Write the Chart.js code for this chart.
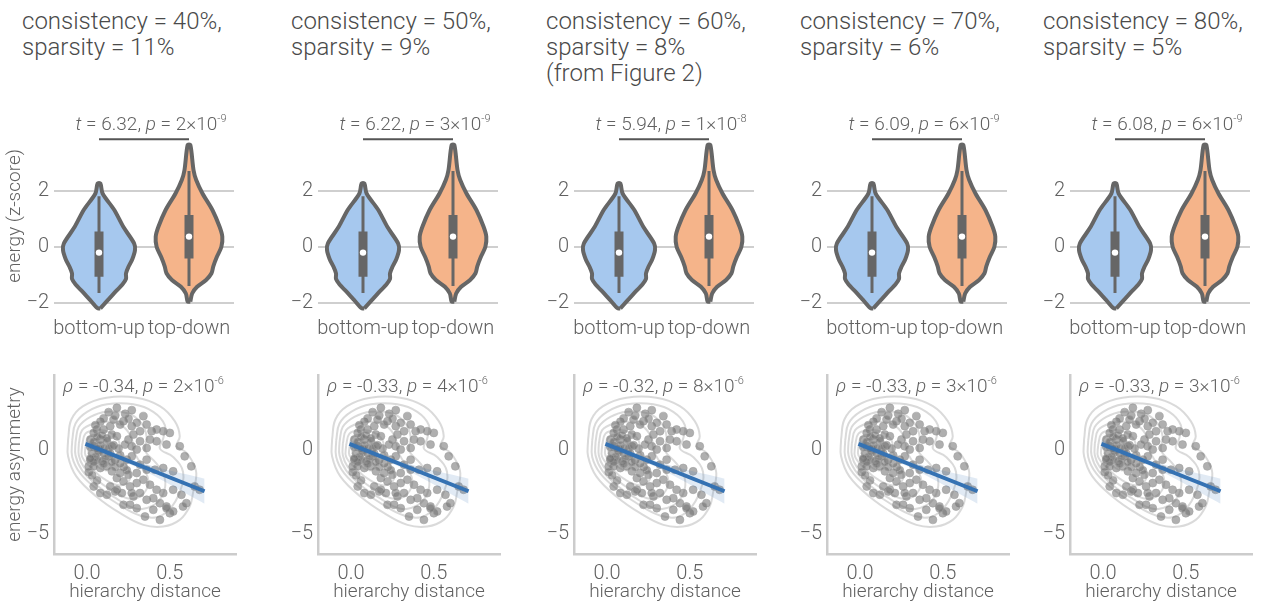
<!DOCTYPE html>
<html>
<head>
<meta charset="utf-8">
<script src="https://cdn.jsdelivr.net/npm/chart.js@4.4.1/dist/chart.umd.min.js"></script>
<style>
  body { margin: 0; background: #fff; width: 1265px; height: 605px; position: relative; overflow: hidden; font-family: Roboto, sans-serif; }
  .title { position: absolute; top: 8px; font-size: 24px; font-weight: 300; color: #4a4a4a; line-height: 26px; white-space: nowrap; }
  canvas { position: absolute; }
</style>
</head>
<body>
<script>
// panel headers
const consistency = ["40%", "50%", "60%", "70%", "80%"];
const sparsity = ["11%", "9%", "8%", "6%", "5%"];
const notes = ["", "", "(from Figure 2)", "", ""];

// t-test annotations (violins)
const tValues = ["6.32", "6.22", "5.94", "6.09", "6.08"];
const tPMant = ["2", "3", "1", "6", "6"];
const tPExp = ["-9", "-9", "-8", "-9", "-9"];

// correlation annotations (scatter)
const rhoValues = ["-0.34", "-0.33", "-0.32", "-0.33", "-0.33"];
const rhoPMant = ["2", "4", "8", "3", "3"];
const rhoPExp = ["-6", "-6", "-6", "-6", "-6"];

// violin categories and ticks
const groups = ["bottom-up", "top-down"];
const violinTicks = [-2, 0, 2];
const sigBarY = 3.84;

// violin density profiles (energy level, half width in category units)
const buLevels = [-2.2, -1.9, -1.55, -1.35, -1.15, -0.95, -0.7, -0.45, -0.12, 0.12, 0.71, 1.31, 1.9, 2.26];
const buHalf   = [0.015, 0.1, 0.2, 0.26, 0.3, 0.3, 0.33, 0.37, 0.4, 0.39, 0.27, 0.17, 0.04, 0.015];
const tdLevels = [-1.96, -1.67, -1.43, -1.19, -0.95, -0.7, -0.36, 0.0, 0.36, 0.71, 1.31, 1.9, 2.38, 2.74, 3.63];
const tdHalf   = [0.015, 0.035, 0.09, 0.19, 0.25, 0.27, 0.31, 0.36, 0.37, 0.34, 0.26, 0.15, 0.08, 0.05, 0.015];

// box stats: [whisker low, q1, median, q3, whisker high]
const buBox = [-1.65, -1.07, -0.21, 0.54, 1.8];
const tdBox = [-1.4, -0.42, 0.36, 1.13, 2.7];

// scatter: hierarchy distance vs energy asymmetry
const hierX = [0.13, 0.18, 0.17, 0.23, 0.27, 0.22, 0.2, 0.25, 0.27, 0.3, 0.34, 0.36, 0.39, 0.42, 0.46, 0.5,
  0.16, 0.14, 0.32, 0.28, 0.25, 0.32, 0.38, 0.42, 0.36, 0.48, 0.56, 0.59, 0.63, 0.46, 0.52, 0.41,
  0.36, 0.3, 0.27, 0.23, 0.18, 0.15, 0.1, 0.06, 0.04, 0.08, 0.12, 0.15, 0.02, 0.04, 0.07, 0.1,
  0.13, 0.17, 0.2, 0.24, 0.27, 0.32, 0.36, 0.3, 0.25, 0.2, 0.15, 0.12, 0.08, 0.04, 0.01, 0.02,
  0.06, 0.09, 0.18, 0.22, 0.26, 0.3, 0.34, 0.38, 0.42, 0.46, 0.32, 0.28, 0.36, 0.4, 0.44, 0.48,
  0.5, 0.44, 0.4, 0.35, 0.3, 0.26, 0.22, 0.17, 0.12, 0.08, 0.04, 0.14, 0.18, 0.21, 0.27, 0.52,
  0.57, 0.65, 0.68, 0.6, 0.58, 0.52, 0.48, 0.02, 0.04, 0.06, 0.03, 0.05, 0.08, 0.1, 0.12, 0.09,
  0.07, 0.11, 0.13, 0.14, 0.04, 0.06, 0.02, 0.1, 0.16, 0.19, 0.2, 0.22, 0.24, 0.17, 0.15, 0.05,
  0.08, 0.1, 0.01, 0.03, 0.06];
const asymY = [2.28, 2.54, 2.08, 2.18, 2.4, 1.74, 1.54, 1.88, 1.44, 1.64, 2.04, 1.54, 1.14, 1.24, 1.14, 1.04,
  1.84, 1.44, 1.14, 0.94, 0.64, 0.54, 0.64, 0.54, 0.14, 0.34, 0.24, -0.36, -0.96, -1.06, -1.26, -1.16,
  -0.56, 0.04, 0.24, 0.34, 0.84, 0.94, 1.24, 1.24, 1.04, 0.64, 0.54, 0.24, 0.64, 0.24, 0.04, -0.16,
  -0.36, -0.56, -0.76, -0.56, -0.36, -0.86, -1.16, -1.36, -1.46, -1.36, -1.26, -0.96, -1.06, -0.96, -0.96, -0.56,
  -0.56, -0.66, -1.66, -1.86, -2.16, -1.96, -1.76, -2.06, -2.36, -2.56, -2.56, -2.76, -2.96, -2.86, -3.16, -3.36,
  -3.76, -4.16, -3.56, -3.96, -3.46, -3.26, -3.26, -2.46, -2.66, -2.56, -2.16, -2.16, -2.36, -2.56, -2.56, -2.36,
  -2.66, -2.16, -2.36, -3.16, -3.36, -3.66, -3.46, 0.2, 0.5, 0.8, -0.2, -0.4, 0.3, 0.1, 0.7, 0.9,
  -0.1, -0.5, 0.1, -0.2, -0.7, 0.1, -0.5, -0.8, 0.3, 0.1, -0.3, -1.0, -1.2, -1.0, -0.7, 1.5,
  1.7, 1.9, -1.3, -1.5, -1.8];

// regression fit and confidence band
const regX = [-0.01, 0.71];
const regY = [0.38, -2.45];
const ciX  = [-0.01, 0.1, 0.2, 0.3, 0.4, 0.5, 0.6, 0.71];
const ciHi = [0.63, 0.13, -0.3, -0.66, -0.95, -1.21, -1.44, -1.7];
const ciLo = [0.13, -0.23, -0.6, -1.02, -1.51, -2.05, -2.6, -3.2];

// density contours [x, y]
const contour1 = [[-0.115, 0.64], [-0.095, 1.84], [-0.024, 2.64], [0.117, 3.14], [0.298, 3.14], [0.44, 2.64], [0.53, 1.74],
  [0.56, 0.84], [0.54, 0.24], [0.59, -0.06], [0.63, -0.56], [0.66, -1.36], [0.64, -2.56], [0.62, -3.36], [0.56, -4.16],
  [0.46, -4.56], [0.34, -4.46], [0.2, -3.76], [0.056, -2.76], [-0.065, -1.56], [-0.115, -0.36], [-0.115, 0.64]];
const contour2 = [[-0.09, 0.6], [-0.07, 1.6], [0.0, 2.3], [0.12, 2.75], [0.28, 2.75], [0.4, 2.3], [0.47, 1.5], [0.46, 0.7],
  [0.44, 0.1], [0.52, -0.4], [0.58, -1.3], [0.56, -2.5], [0.5, -3.5], [0.42, -4.0], [0.32, -3.9], [0.2, -3.3],
  [0.07, -2.4], [-0.04, -1.4], [-0.09, -0.4], [-0.09, 0.6]];
const contour3 = [[-0.07, 0.5], [-0.05, 1.4], [0.02, 2.0], [0.12, 2.3], [0.25, 2.2], [0.33, 1.6], [0.36, 0.8], [0.35, 0.0],
  [0.42, -0.8], [0.47, -1.7], [0.46, -2.6], [0.4, -3.3], [0.3, -3.5], [0.18, -2.9], [0.06, -2.1], [-0.03, -1.2],
  [-0.07, -0.3], [-0.07, 0.5]];
const contour4 = [[-0.05, 0.4], [-0.03, 1.2], [0.04, 1.6], [0.13, 1.7], [0.22, 1.4], [0.27, 0.7], [0.28, 0.0], [0.33, -0.9],
  [0.37, -1.8], [0.34, -2.6], [0.26, -2.9], [0.15, -2.4], [0.05, -1.7], [-0.02, -1.0], [-0.05, -0.3], [-0.05, 0.4]];
const contour5 = [[-0.03, 0.3], [-0.01, 1.0], [0.05, 1.2], [0.13, 1.1], [0.19, 0.6], [0.2, -0.1], [0.24, -0.9], [0.26, -1.7],
  [0.2, -2.1], [0.1, -1.7], [0.03, -1.1], [-0.03, -0.4], [-0.03, 0.3]];
const contour6 = [[-0.01, 0.2], [0.01, 0.8], [0.07, 0.9], [0.12, 0.5], [0.14, -0.2], [0.15, -0.9], [0.11, -1.2], [0.04, -0.8],
  [-0.01, -0.3], [-0.01, 0.2]];
const contour7 = [[0.01, 0.2], [0.03, 0.6], [0.07, 0.5], [0.09, 0.0], [0.08, -0.5], [0.04, -0.5], [0.01, -0.2], [0.01, 0.2]];
const contours = [contour1, contour2, contour3, contour4, contour5, contour6, contour7];

const panelLeft = [54, 318, 574, 827, 1070];
const titleLeft = [22, 291, 546, 800, 1043];
const TXT = "#616161";
const FAM = "Roboto, 'Liberation Sans', sans-serif";

Chart.defaults.font.family = FAM;
Chart.defaults.font.size = 20;
Chart.defaults.font.weight = "300";
Chart.defaults.color = TXT;

const minus = v => (v < 0 ? "\u2212" + Math.abs(v) : String(v));

function drawRuns(ctx, runs, x, y, size, align) {
  const fontFor = r => (r.it ? "italic " : "") + "300 " + (r.sup ? Math.round(size * 0.6) : size) + "px " + FAM;
  let total = 0;
  runs.forEach(r => { ctx.font = fontFor(r); r.w = ctx.measureText(r.t).width; total += r.w; });
  let cx = align === "center" ? x - total / 2 : x;
  ctx.save();
  ctx.fillStyle = TXT;
  ctx.textAlign = "left";
  ctx.textBaseline = "alphabetic";
  runs.forEach(r => {
    ctx.font = fontFor(r);
    ctx.fillText(r.t, cx, r.sup ? y - size * 0.42 : y);
    cx += r.w;
  });
  ctx.restore();
}

function makeCanvas(left, top, w, h) {
  const c = document.createElement("canvas");
  c.width = w; c.height = h;
  c.style.left = left + "px"; c.style.top = top + "px";
  c.style.width = w + "px"; c.style.height = h + "px";
  document.body.appendChild(c);
  return c;
}

function violinShape(center, levels, half) {
  const pts = [];
  for (let k = 0; k < levels.length; k++) pts.push({ x: center + half[k], y: levels[k] });
  for (let k = levels.length - 1; k >= 0; k--) pts.push({ x: center - half[k], y: levels[k] });
  pts.push(pts[0]);
  return pts;
}

const baseOpts = { responsive: false, animation: false, events: [],
  plugins: { legend: { display: false }, tooltip: { enabled: false } } };

for (let i = 0; i < 5; i++) {
  // header
  const t = document.createElement("div");
  t.className = "title";
  t.style.left = titleLeft[i] + "px";
  t.innerHTML = "consistency = " + consistency[i] + ",<br>sparsity = " + sparsity[i] + (notes[i] ? "<br>" + notes[i] : "");
  document.body.appendChild(t);

  // violin panel
  const vc = makeCanvas(panelLeft[i] - 54, 100, 250, 250);
  const lineDs = (data, color, width, order) => ({ type: "line", data, borderColor: color, borderWidth: width,
    pointRadius: 0, fill: false, order, borderCapStyle: "butt" });
  new Chart(vc, {
    type: "scatter",
    data: { datasets: [
      { type: "scatter", data: [{ x: 0, y: buBox[2] }, { x: 1, y: tdBox[2] }], pointRadius: 3.2,
        backgroundColor: "#fff", borderWidth: 0, order: 0 },
      lineDs([{ x: 0, y: sigBarY }, { x: 1, y: sigBarY }], "#555", 2, 0),
      lineDs([{ x: 0, y: buBox[1] }, { x: 0, y: buBox[3] }], "#666", 9, 1),
      lineDs([{ x: 1, y: tdBox[1] }, { x: 1, y: tdBox[3] }], "#666", 9, 1),
      lineDs([{ x: 0, y: buBox[0] }, { x: 0, y: buBox[4] }], "#666", 3, 2),
      lineDs([{ x: 1, y: tdBox[0] }, { x: 1, y: tdBox[4] }], "#666", 3, 2),
      { type: "line", data: violinShape(0, buLevels, buHalf), fill: "shape", backgroundColor: "#a6c8ee",
        borderColor: "#666", borderWidth: 4, tension: 0.3, pointRadius: 0, order: 3, borderJoinStyle: "round" },
      { type: "line", data: violinShape(1, tdLevels, tdHalf), fill: "shape", backgroundColor: "#f5b48a",
        borderColor: "#666", borderWidth: 4, tension: 0.3, pointRadius: 0, order: 3, borderJoinStyle: "round" }
    ] },
    options: Object.assign({}, baseOpts, {
      layout: { padding: { top: 20.7, right: 16, bottom: 0, left: 0 } },
      scales: {
        x: { type: "linear", min: -0.5, max: 1.5,
          afterBuildTicks: s => { s.ticks = [{ value: 0 }, { value: 1 }]; },
          afterFit: s => { s.height = 38.9; },
          ticks: { callback: v => groups[v], padding: 6, maxRotation: 0, autoSkip: false },
          grid: { display: false, drawTicks: false }, border: { display: false } },
        y: { min: -2.3, max: 4.5,
          afterBuildTicks: s => { s.ticks = violinTicks.map(v => ({ value: v })); },
          afterFit: s => { s.width = 54; },
          ticks: { callback: v => minus(v), padding: 5 },
          grid: { color: "#cfcfcf", lineWidth: 2, drawTicks: false }, border: { display: false },
          title: { display: i === 0, text: "energy (z-score)", font: { size: 19 }, padding: { top: 4, bottom: 0 } } }
      }
    }),
    plugins: [{ id: "tnote", afterDraw(chart) {
      const xs = chart.scales.x, ys = chart.scales.y;
      const cx = (xs.getPixelForValue(0) + xs.getPixelForValue(1)) / 2 + 7;
      const by = ys.getPixelForValue(sigBarY) - 9;
      drawRuns(chart.ctx, [{ t: "t", it: true }, { t: " = " + tValues[i] + ", " }, { t: "p", it: true },
        { t: " = " + tPMant[i] + "\u00d710" }, { t: tPExp[i], sup: true }], cx, by, 19, "center");
    } }]
  });

  // scatter panel
  const sc = makeCanvas(panelLeft[i] - 54, 355, 250, 250);
  const ds = [];
  ds.push({ type: "line", data: regX.map((x, k) => ({ x, y: regY[k] })), borderColor: "#3572b3", borderWidth: 4,
    pointRadius: 0, fill: false, order: 0 });
  ds.push({ type: "line", data: ciX.map((x, k) => ({ x, y: ciHi[k] })), borderWidth: 0, pointRadius: 0,
    fill: "+1", backgroundColor: "rgba(53,114,179,0.15)", order: 1, tension: 0.3 });
  ds.push({ type: "line", data: ciX.map((x, k) => ({ x, y: ciLo[k] })), borderWidth: 0, pointRadius: 0,
    fill: false, order: 1, tension: 0.3 });
  ds.push({ type: "scatter", data: hierX.map((x, k) => ({ x, y: asymY[k] })), pointRadius: 4,
    backgroundColor: "rgba(110,110,110,0.55)", borderColor: "rgba(160,160,160,0.6)", borderWidth: 1, order: 2 });
  contours.forEach(c => ds.push({ type: "line", data: c.map(p => ({ x: p[0], y: p[1] })),
    borderColor: "rgba(205,205,205,0.75)", borderWidth: 2, pointRadius: 0, fill: false, tension: 0.4, order: 3 }));

  new Chart(sc, {
    type: "scatter",
    data: { datasets: ds },
    options: Object.assign({}, baseOpts, {
      layout: { padding: { top: 20, right: 14, bottom: 0, left: 0 } },
      scales: {
        x: { type: "linear", min: -0.2, max: 0.9,
          afterBuildTicks: s => { s.ticks = [{ value: 0 }, { value: 0.5 }]; },
          afterFit: s => { s.height = 51; },
          ticks: { callback: v => v.toFixed(1), padding: 8 },
          grid: { display: false, drawTicks: false },
          border: { display: true, color: "#cccccc", width: 2.5 },
          title: { display: true, text: "hierarchy distance", font: { size: 19 }, padding: { top: 0, bottom: 1 } } },
        y: { min: -6.2, max: 4.5,
          afterBuildTicks: s => { s.ticks = [{ value: -5 }, { value: 0 }]; },
          afterFit: s => { s.width = 54; },
          ticks: { callback: v => minus(v), padding: 5 },
          grid: { display: false, drawTicks: false },
          border: { display: true, color: "#cccccc", width: 2.5 },
          title: { display: i === 0, text: "energy asymmetry", font: { size: 19 }, padding: { top: 4, bottom: 0 } } }
      }
    }),
    plugins: [{ id: "rnote", afterDraw(chart) {
      const a = chart.chartArea;
      drawRuns(chart.ctx, [{ t: "\u03c1", it: true }, { t: " = " + rhoValues[i] + ", " }, { t: "p", it: true },
        { t: " = " + rhoPMant[i] + "\u00d710" }, { t: rhoPExp[i], sup: true }], a.left + 9, a.top + 17, 19, "left");
    } }]
  });
}
</script>
</body>
</html>
